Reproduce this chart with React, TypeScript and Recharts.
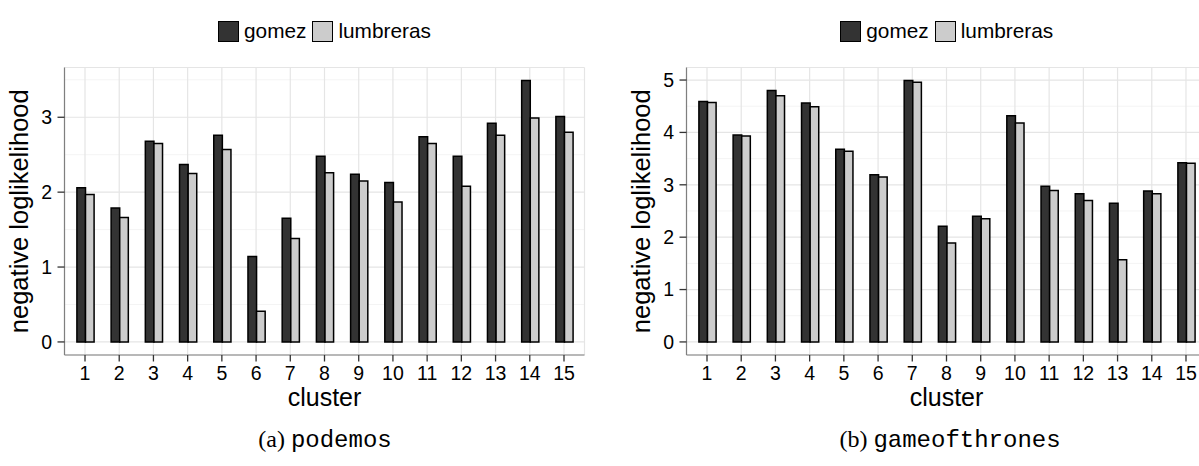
import React from "react";
import { BarChart, Bar, XAxis, YAxis, CartesianGrid, Legend, Label } from "recharts";

const clusters = ["1", "2", "3", "4", "5", "6", "7", "8", "9", "10", "11", "12", "13", "14", "15"];

const podemosGomez = [2.06, 1.79, 2.68, 2.37, 2.76, 1.14, 1.65, 2.48, 2.24, 2.13, 2.74, 2.48, 2.92, 3.49, 3.01];
const podemosLumbreras = [1.97, 1.66, 2.65, 2.25, 2.57, 0.41, 1.38, 2.26, 2.15, 1.87, 2.65, 2.08, 2.76, 2.99, 2.8];

const gotGomez = [4.59, 3.95, 4.8, 4.56, 3.68, 3.19, 4.99, 2.21, 2.4, 4.32, 2.97, 2.83, 2.65, 2.88, 3.42];
const gotLumbreras = [4.57, 3.93, 4.7, 4.49, 3.64, 3.15, 4.96, 1.89, 2.35, 4.18, 2.89, 2.7, 1.57, 2.83, 3.41];

const podemosTicks = [0, 1, 2, 3];
const gotTicks = [0, 1, 2, 3, 4, 5];

const seriesNames = ["gomez", "lumbreras"];
const seriesFills = ["#333333", "#cccccc"];

const SANS = "'Liberation Sans', Arial, sans-serif";

function LegendBox() {
  return (
    <div style={{ display: "flex", alignItems: "center", fontFamily: SANS, fontSize: 20.8, color: "#000", height: 30 }}>
      {seriesNames.map((name, i) => (
        <div key={name} style={{ display: "flex", alignItems: "center", marginRight: i === 0 ? 6 : 0 }}>
          <div style={{ width: 19, height: 19, background: seriesFills[i], border: "1.5px solid #000" }} />
          <span style={{ marginLeft: 5 }}>{name}</span>
        </div>
      ))}
    </div>
  );
}

interface PanelProps {
  gomez: number[];
  lumbreras: number[];
  ticks: number[];
}

function Panel({ gomez, lumbreras, ticks }: PanelProps) {
  const data = clusters.map((c, i) => ({ cluster: c, gomez: gomez[i], lumbreras: lumbreras[i] }));
  const max = Math.max(...gomez, ...lumbreras);
  const pad = max * 0.05;
  const domain: [number, number] = [-pad, max + pad];
  const minor = ticks.map((t) => t + 0.5).filter((v) => v < domain[1]);

  // ggplot style minor grid lines, halfway between the major ones
  const minorGen = ({ offset }: any) =>
    minor.map((v) => offset.top + (offset.height * (domain[1] - v)) / (domain[1] - domain[0]));

  const yLabel = (props: any) => {
    const vb = props.viewBox;
    const cy = vb.y + vb.height / 2;
    return (
      <text x={28} y={cy} transform={`rotate(-90, 28, ${cy})`} textAnchor="middle" fontFamily={SANS} fontSize={25.5} fill="#000">
        negative loglikelihood
      </text>
    );
  };

  const xLabel = (props: any) => {
    const vb = props.viewBox;
    return (
      <text x={vb.x + vb.width / 2} y={406} textAnchor="middle" fontFamily={SANS} fontSize={25} fill="#000">
        cluster
      </text>
    );
  };

  return (
    <BarChart
      width={600}
      height={420}
      data={data}
      margin={{ top: 37.5, right: 15.5, left: 0, bottom: 0 }}
      barGap={0}
      barCategoryGap={0}
    >
      <CartesianGrid vertical={false} horizontalCoordinatesGenerator={minorGen} stroke="#f4f4f4" strokeWidth={1} />
      <CartesianGrid stroke="#e5e5e5" strokeWidth={1.2} />
      <XAxis
        dataKey="cluster"
        interval={0}
        padding={{ left: 3.4, right: 3.4 }}
        height={65}
        tickSize={6.5}
        tickMargin={4.5}
        tick={{ fill: "#000", fontSize: 19.5, fontFamily: SANS }}
        tickLine={{ stroke: "#333", strokeWidth: 1.3 }}
        axisLine={{ stroke: "#7f7f7f", strokeWidth: 1.2 }}
      >
        <Label content={xLabel} />
      </XAxis>
      <XAxis xAxisId="top" orientation="top" dataKey="cluster" height={0} tick={false} tickLine={false} axisLine={{ stroke: "#7f7f7f", strokeWidth: 1.2 }} />
      <YAxis
        domain={domain}
        ticks={ticks}
        width={64.5}
        tickSize={7}
        tickMargin={5.5}
        tick={{ fill: "#000", fontSize: 19.5, fontFamily: SANS }}
        tickLine={{ stroke: "#333", strokeWidth: 1.3 }}
        axisLine={{ stroke: "#7f7f7f", strokeWidth: 1.2 }}
      >
        <Label content={yLabel} />
      </YAxis>
      <YAxis yAxisId="right" orientation="right" domain={domain} width={0} tick={false} tickLine={false} axisLine={{ stroke: "#7f7f7f", strokeWidth: 1.2 }} />
      <Legend verticalAlign="top" height={30} content={() => <LegendBox />} wrapperStyle={{ top: 16, left: 218, width: "auto" }} />
      <Bar dataKey="gomez" fill={seriesFills[0]} stroke="#000" strokeWidth={1.5} barSize={8.6} isAnimationActive={false} />
      <Bar dataKey="lumbreras" fill={seriesFills[1]} stroke="#000" strokeWidth={1.5} barSize={8.6} isAnimationActive={false} />
    </BarChart>
  );
}

function Caption({ tag, name, center }: { tag: string; name: string; center: number }) {
  return (
    <div
      style={{
        position: "absolute",
        left: center - 200,
        width: 400,
        top: 426,
        textAlign: "center",
        fontSize: 24,
        color: "#000",
        whiteSpace: "nowrap",
      }}
    >
      <span style={{ fontFamily: "'Liberation Serif', serif" }}>{tag} </span>
      <span style={{ fontFamily: "'Liberation Mono', monospace" }}>{name}</span>
    </div>
  );
}

export default function App() {
  return (
    <div style={{ position: "absolute", left: 0, top: 0, width: 1199, height: 466, overflow: "hidden", background: "#fff" }}>
      <div style={{ position: "absolute", left: 0, top: 0 }}>
        <Panel gomez={podemosGomez} lumbreras={podemosLumbreras} ticks={podemosTicks} />
      </div>
      <div style={{ position: "absolute", left: 622.3, top: 0 }}>
        <Panel gomez={gotGomez} lumbreras={gotLumbreras} ticks={gotTicks} />
      </div>
      <Caption tag="(a)" name="podemos" center={325} />
      <Caption tag="(b)" name="gameofthrones" center={950} />
    </div>
  );
}
